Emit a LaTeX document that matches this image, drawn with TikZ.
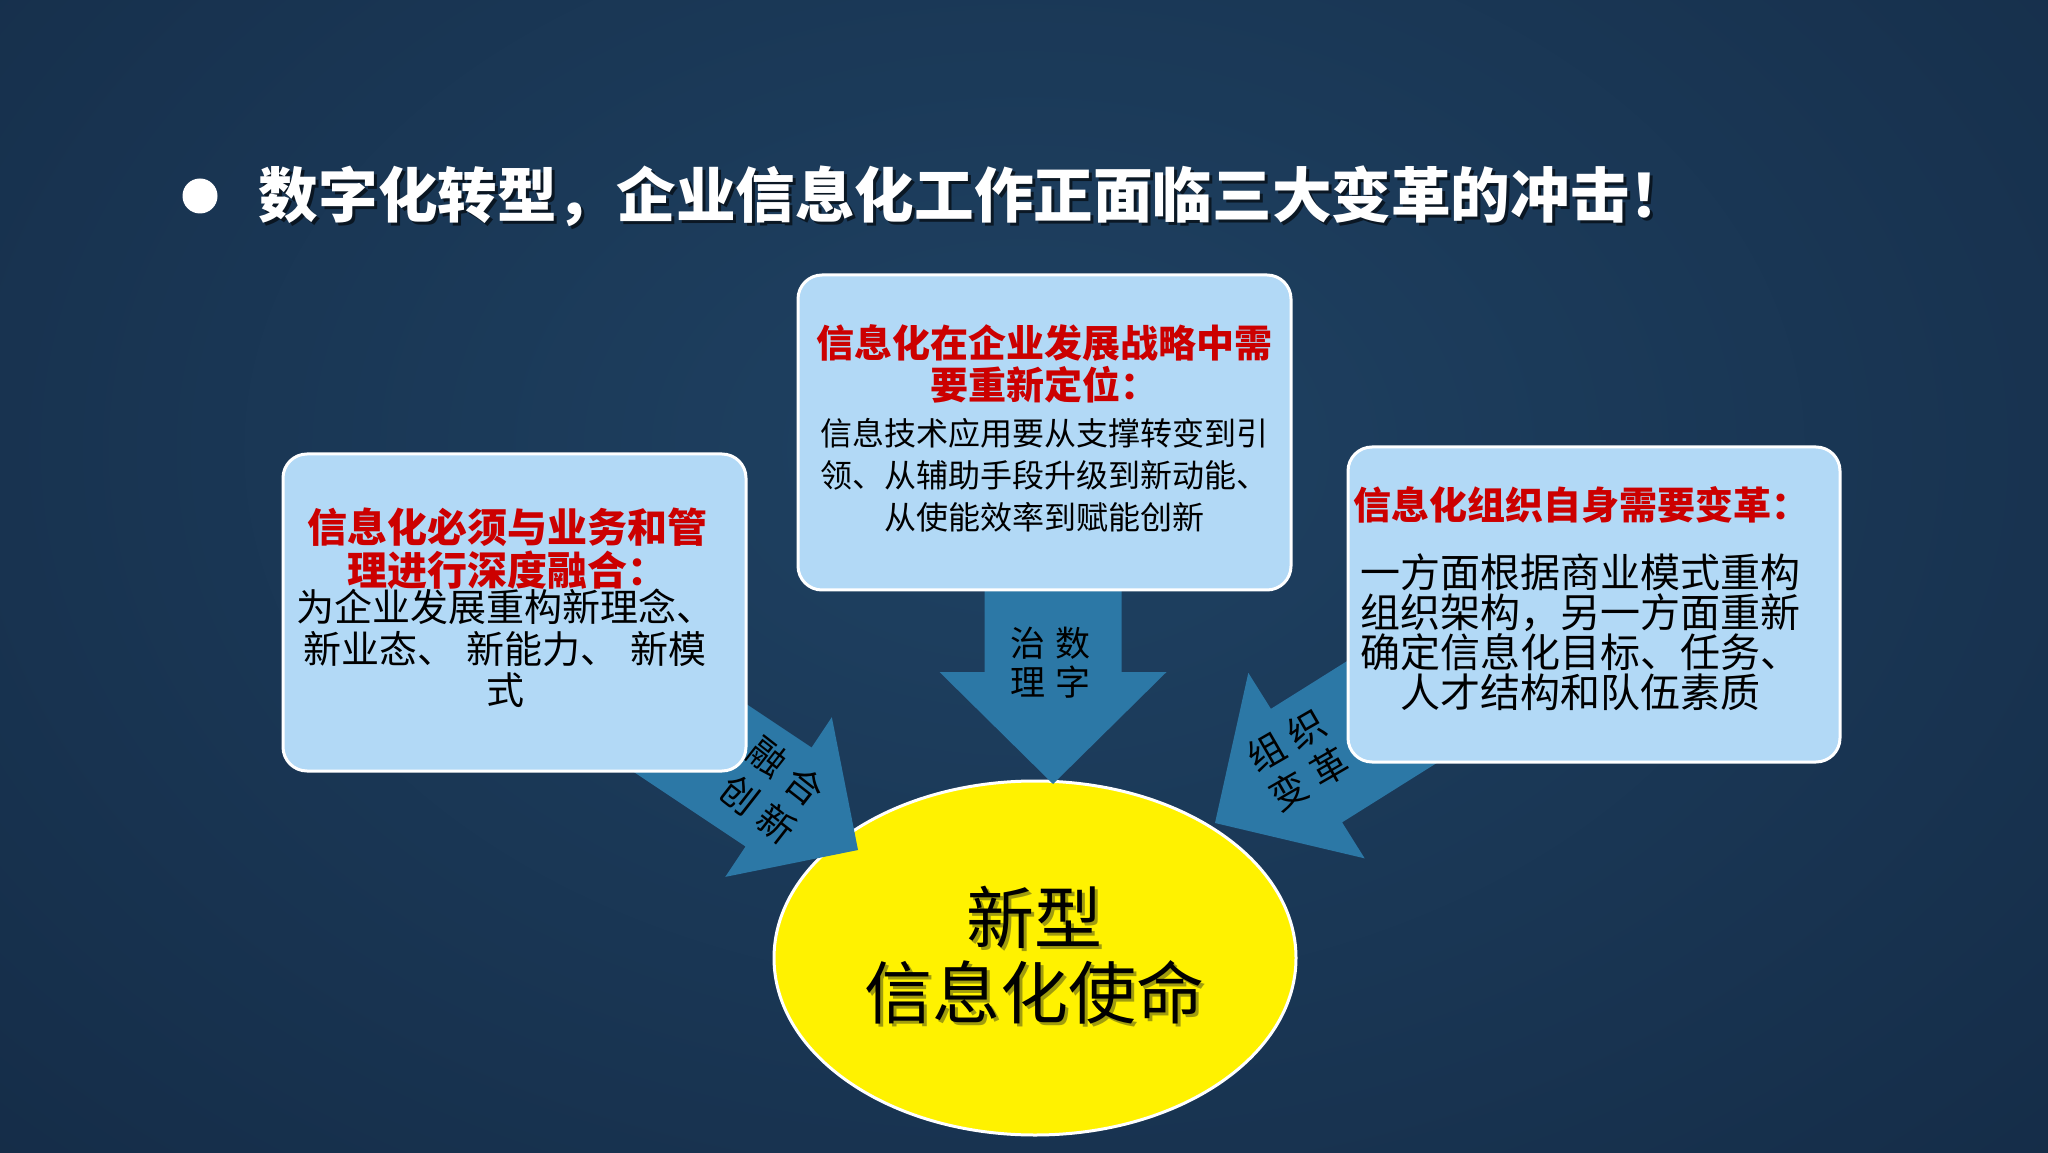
\documentclass[tikz,border=0pt]{standalone}
\usepackage{fontspec}
\newfontfamily\cjk{Noto Sans CJK SC}
\usetikzlibrary{shapes.geometric}
\definecolor{bgin}{RGB}{31,66,99}
\definecolor{bgmid}{RGB}{20,43,70}
\definecolor{bgout}{RGB}{11,21,36}
\definecolor{boxfill}{RGB}{178,217,246}
\definecolor{arrowblue}{RGB}{44,120,166}
\definecolor{redtxt}{RGB}{204,0,0}
\definecolor{ellshadow}{RGB}{120,120,20}
\pgfdeclareradialshading{bgshade}{\pgfpoint{0bp}{0bp}}{color(0bp)=(bgin); color(30bp)=(bgmid); color(75bp)=(bgout); color(100bp)=(bgout)}
\tikzset{
  infobox/.style={draw=white, line width=1.5pt, fill=boxfill, rounded corners=12pt, inner sep=0pt},
  blockarrow/.style={fill=arrowblue, draw=none},
  txt/.style={inner sep=0pt, align=center},
  redhead/.style={txt, text=redtxt},
  arrowtxt/.style={txt, text=black, font={\cjk\fontsize{18.5}{23}\selectfont}},
  titletxt/.style={inner sep=0pt, font={\cjk\bfseries\fontsize{29.8}{34}\selectfont}}
}
\begin{document}
\begin{tikzpicture}[x=0.5pt, y=0.5pt]
\useasboundingbox (0,0) rectangle (2048,1152);
% background
\begin{scope}
\clip (0,0) rectangle (2048,1152);
\shade[shading=bgshade] (-276,-198) rectangle (2324,1602);
\end{scope}
% title
\node[circle, fill=white, minimum size=17.5pt, inner sep=0pt] (bullet) at (200,956) {};
\node[titletxt, text=black, opacity=0.6] (titleshadow) at (977,953) {数字化转型，企业信息化工作正面临三大变革的冲击！};
\node[titletxt, text=white] (title) at (974,956) {数字化转型，企业信息化工作正面临三大变革的冲击！};
% central ellipse
\node[ellipse, draw=white, line width=1.5pt, fill=yellow, minimum width=261pt, minimum height=177pt, inner sep=0pt] (mission) at (1035,194) {};
\node[txt, text=ellshadow, opacity=0.7, font={\cjk\fontsize{34}{37.5}\selectfont}] (missionshadow) at (1037,193.5) {新型\\信息化使命};
\node[txt, text=black, font={\cjk\fontsize{34}{37.5}\selectfont}] (missiontext) at (1034,196.5) {新型\\信息化使命};
% arrow tips
\coordinate (tipL) at (858,302);
\coordinate (tipM) at (1053,368);
\coordinate (tipR) at (1215,329);
% block arrows
\fill[blockarrow, shift={(tipM)}, rotate=-90] (0,0) -- (-112,113.5) -- (-112,68.5) -- (-250,68.5) -- (-250,-68.5) -- (-112,-68.5) -- (-112,-113.5) -- cycle;
\fill[blockarrow, shift={(tipL)}, rotate=-33.7] (0,0) -- (-95.5,96) -- (-95.5,59.5) -- (-300,59.5) -- (-300,-59.5) -- (-95.5,-59.5) -- (-95.5,-96) -- cycle;
\fill[blockarrow, shift={(tipR)}, rotate=212.1] (0,0) -- (-108,109.5) -- (-108,67) -- (-310,67) -- (-310,-67) -- (-108,-67) -- (-108,-109.5) -- cycle;
% arrow labels
\node[arrowtxt, font={\cjk\fontsize{17.5}{19.5}\selectfont}] (digit) at (1073,489.5) {数\\字};
\node[arrowtxt, font={\cjk\fontsize{17.5}{19.5}\selectfont}] (govern) at (1028,489.5) {治\\理};
\node[arrowtxt, rotate=-38] (fuse1) at (786.5,381) {融\hspace{5pt}合};
\node[arrowtxt, rotate=-38] (fuse2) at (758.5,342.5) {创\hspace{5pt}新};
\node[arrowtxt, rotate=30] (org1) at (1286.5,411.5) {组\hspace{5pt}织};
\node[arrowtxt, rotate=30] (org2) at (1309,373) {变\hspace{5pt}革};
% boxes
\node[infobox, minimum width=231.5pt, minimum height=158.5pt] (boxL) at (514.5,539.5) {};
\node[infobox, minimum width=246.5pt, minimum height=157.5pt] (boxT) at (1044.5,719.5) {};
\node[infobox, minimum width=246pt, minimum height=157.5pt] (boxR) at (1594,547.5) {};
% left box text
\node[redhead, font={\cjk\bfseries\fontsize{20}{21.5}\selectfont}] (lhead) at (507,603.5) {信息化必须与业务和管\\理进行深度融合：};
\node[txt, font={\cjk\fontsize{19}{20.75}\selectfont}] (lbody) at (505,503.5) {为企业发展重构新理念、\\新业态、\hspace{6pt}新能力、\hspace{6pt}新模\\式};
% top box text
\node[redhead, font={\cjk\bfseries\fontsize{19}{21}\selectfont}] (thead) at (1044,788) {信息化在企业发展战略中需\\要重新定位：};
\node[txt, font={\cjk\fontsize{16}{21}\selectfont}] (tbody) at (1044.5,677) {信息技术应用要从支撑转变到引\\领、从辅助手段升级到新动能、\\从使能效率到赋能创新};
% right box text
\node[redhead, font={\cjk\bfseries\fontsize{19}{21}\selectfont}] (rhead) at (1581,647) {信息化组织自身需要变革：};
\node[txt, font={\cjk\fontsize{20}{20.15}\selectfont}] (rbody) at (1580,519.75) {一方面根据商业模式重构\\组织架构，另一方面重新\\确定信息化目标、任务、\\人才结构和队伍素质};
\end{tikzpicture}
\end{document}
